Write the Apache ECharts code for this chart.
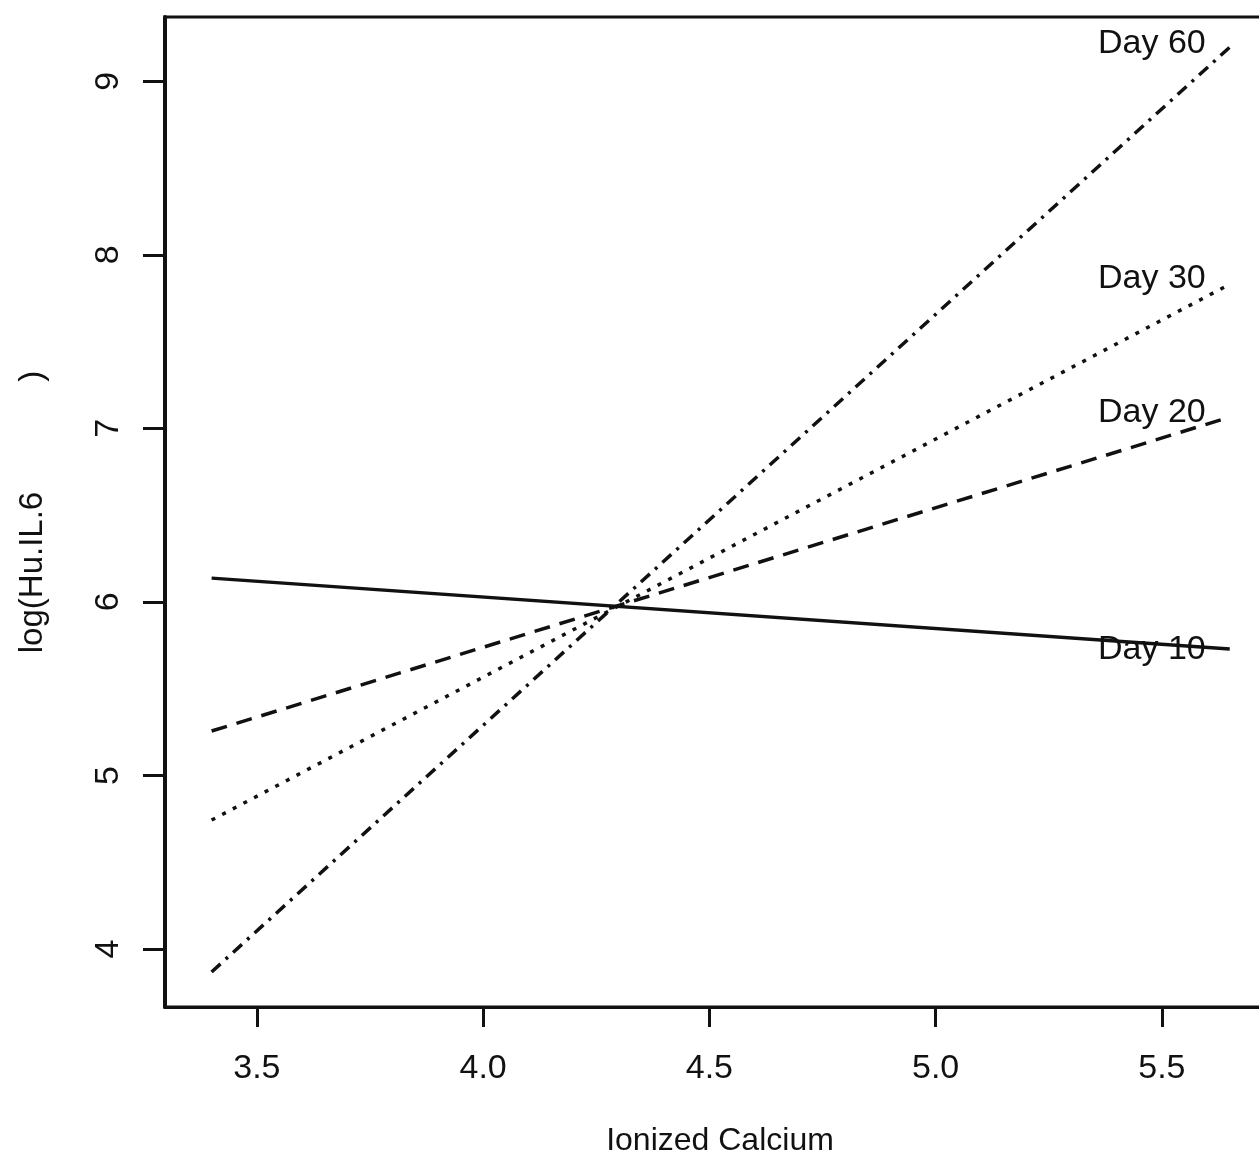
<!DOCTYPE html>
<html>
<head>
<meta charset="utf-8">
<script src="https://cdn.jsdelivr.net/npm/echarts@6/dist/echarts.min.js"></script>
<style>
  html, body { margin: 0; padding: 0; background: #fff; }
  #chart { width: 1259px; height: 1165px; }
</style>
</head>
<body>
<div id="chart"></div>
<script>
// fitted lines, one start/end pair per day
const xRange = [3.4, 5.65]
const day10 = [6.137, 5.728]
const day20 = [5.256, 7.065]
const day30 = [4.743, 7.83]
const day60 = [3.868, 9.196]
const dayNames = ['Day 10', 'Day 20', 'Day 30', 'Day 60']

const xTicks = [3.5, 4.0, 4.5, 5.0, 5.5]
const yTicks = [4, 5, 6, 7, 8, 9]

const font = 'Liberation Sans, Arial, sans-serif'
const ink = '#111'

const lineTypes = [
  'solid',
  [16, 10],        // dashed
  [4, 8],          // dotted
  [12, 7, 3, 7]    // dot-dash
]
const labelDy = [1, -4, -6, -4]

function makeSeries(name, ys, i) {
  return {
    name: name,
    type: 'line',
    symbol: 'none',
    silent: true,
    lineStyle: { color: ink, width: 3.5, type: lineTypes[i] },
    endLabel: {
      show: true,
      align: 'right',
      offset: [-32, labelDy[i]],
      formatter: name,
      color: ink,
      fontSize: 34,
      fontFamily: font
    },
    data: [
      [xRange[0], ys[0]],
      [xRange[1], ys[1]]
    ]
  }
}

const chart = echarts.init(document.getElementById('chart'))
chart.setOption({
  animation: false,
  backgroundColor: '#fff',
  grid: {
    left: 165,
    top: 17,
    width: 1110,
    height: 990,
    outerBoundsMode: 'none',
    show: true,
    borderColor: ink,
    borderWidth: 3,
    backgroundColor: 'transparent'
  },
  xAxis: {
    type: 'value',
    min: 3.297,
    max: 5.75,
    name: 'Ionized Calcium',
    nameLocation: 'middle',
    nameGap: 118,
    nameTextStyle: { color: ink, fontSize: 32, fontFamily: font },
    splitLine: { show: false },
    axisLine: { show: true, lineStyle: { color: ink, width: 3 } },
    axisTick: {
      show: true,
      length: 20,
      inside: false,
      customValues: xTicks,
      lineStyle: { color: ink, width: 3 }
    },
    axisLabel: {
      customValues: xTicks,
      margin: 45,
      color: ink,
      fontSize: 34,
      fontFamily: font,
      formatter: v => v.toFixed(1)
    }
  },
  yAxis: {
    type: 'value',
    min: 3.666,
    max: 9.37,
    name: 'log(Hu.IL.6            )',
    nameLocation: 'middle',
    nameGap: 116,
    nameTextStyle: { color: ink, fontSize: 33, fontFamily: font },
    splitLine: { show: false },
    axisLine: { show: true, lineStyle: { color: ink, width: 4 } },
    axisTick: {
      show: true,
      length: 22,
      customValues: yTicks,
      lineStyle: { color: ink, width: 3 }
    },
    axisLabel: {
      customValues: yTicks,
      rotate: 90,
      margin: 39,
      color: ink,
      fontSize: 34,
      fontFamily: font
    }
  },
  series: [
    makeSeries(dayNames[0], day10, 0),
    makeSeries(dayNames[1], day20, 1),
    makeSeries(dayNames[2], day30, 2),
    makeSeries(dayNames[3], day60, 3)
  ]
})
</script>
</body>
</html>
